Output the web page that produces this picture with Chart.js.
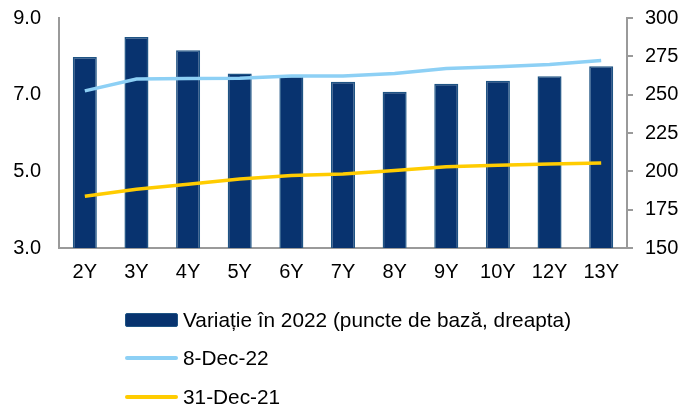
<!DOCTYPE html>
<html>
<head>
<meta charset="utf-8">
<script src="https://cdn.jsdelivr.net/npm/chart.js@4.4.1/dist/chart.umd.min.js"></script>
<style>
  html, body { margin: 0; padding: 0; background: #fff; }
  #wrap { position: relative; width: 682px; height: 408px; font-family: "Liberation Sans", Arial, sans-serif; }
  #c { position: absolute; left: 0; top: 0; }
  .leg { position: absolute; left: 125px; height: 22px; display: flex; align-items: center; font-size: 20.8px; color: #000; white-space: nowrap; }
  .leg .sw { width: 53px; margin-right: 5px; box-sizing: border-box; }
</style>
</head>
<body>
<div id="wrap">
  <canvas id="c" width="682" height="408"></canvas>
  <div id="legend"></div>
</div>
<script>
const categories = ["2Y", "3Y", "4Y", "5Y", "6Y", "7Y", "8Y", "9Y", "10Y", "12Y", "13Y"];
const variatie2022 = [274.6, 287.6, 279.0, 263.8, 262.2, 258.4, 251.9, 257.2, 259.1, 262.0, 268.5];
const dec8_22 = [7.10, 7.41, 7.42, 7.43, 7.49, 7.49, 7.55, 7.68, 7.73, 7.79, 7.89];
const dec31_21 = [4.35, 4.53, 4.66, 4.80, 4.89, 4.93, 5.02, 5.12, 5.16, 5.19, 5.22];
const leftTicks = [3.0, 5.0, 7.0, 9.0];
const rightTicks = [150, 175, 200, 225, 250, 275, 300];
const labelBar = "Variație în 2022 (puncte de bază, dreapta)";
const labelBlue = "8-Dec-22";
const labelYellow = "31-Dec-21";

const NAVY = "#08336f", NAVY_EDGE = "#1f5484", BLUE = "#8dd0f5", YELLOW = "#ffcc00", AXIS = "#9a9a9a";
const FONT = { family: "'Liberation Sans', Arial, sans-serif", size: 20 };

const zeroPad = (s) => { s.paddingTop = 0; s.paddingBottom = 0; s.paddingLeft = 0; s.paddingRight = 0; };

new Chart(document.getElementById("c"), {
  data: {
    labels: categories,
    datasets: [
      { type: "line", label: labelBlue, data: dec8_22, yAxisID: "yL", borderColor: BLUE, borderWidth: 3.5, pointRadius: 0, tension: 0, order: 1 },
      { type: "line", label: labelYellow, data: dec31_21, yAxisID: "yL", borderColor: YELLOW, borderWidth: 3.5, pointRadius: 0, tension: 0, order: 2 },
      { type: "bar", label: labelBar, data: variatie2022, yAxisID: "yR", backgroundColor: NAVY, borderColor: NAVY_EDGE, borderWidth: 1.5, barPercentage: 0.93, categoryPercentage: 0.5, order: 3 }
    ]
  },
  options: {
    responsive: false,
    animation: false,
    layout: { padding: { left: 0, right: 0, top: 18, bottom: 0 } },
    plugins: { legend: { display: false }, tooltip: { enabled: false } },
    scales: {
      x: {
        offset: true,
        grid: { display: false, drawTicks: false },
        border: { display: true, color: AXIS, width: 2 },
        ticks: { color: "#000", font: FONT, padding: 12, maxRotation: 0 },
        afterFit: (s) => { s.height = 160; zeroPad(s); }
      },
      yL: {
        position: "left", min: 3, max: 9,
        afterBuildTicks: (s) => { s.ticks = leftTicks.map(v => ({ value: v })); },
        grid: { display: false, drawTicks: false },
        border: { display: true, color: AXIS, width: 2 },
        ticks: { color: "#000", font: FONT, padding: 18, callback: (v) => Number(v).toFixed(1) },
        afterFit: (s) => { s.width = 59; zeroPad(s); }
      },
      yR: {
        position: "right", min: 150, max: 300,
        afterBuildTicks: (s) => { s.ticks = rightTicks.map(v => ({ value: v })); },
        grid: { display: true, drawOnChartArea: false, drawTicks: true, tickLength: 6, color: AXIS, lineWidth: 2 },
        border: { display: true, color: AXIS, width: 2 },
        ticks: { color: "#000", font: FONT, padding: 12 },
        afterFit: (s) => { s.width = 55; zeroPad(s); }
      }
    }
  }
});

// HTML legend built from dataset labels
const legendItems = [
  { text: labelBar, top: 309, sw: `height:14px;background:${NAVY};border:1.5px solid ${NAVY_EDGE};border-radius:2px;` },
  { text: labelBlue, top: 347, sw: `height:4px;background:${BLUE};border-radius:2px;` },
  { text: labelYellow, top: 386, sw: `height:4px;background:${YELLOW};border-radius:2px;` }
];
const lg = document.getElementById("legend");
legendItems.forEach(it => {
  const d = document.createElement("div");
  d.className = "leg";
  d.style.top = it.top + "px";
  d.innerHTML = `<div class="sw" style="${it.sw}"></div><span>${it.text}</span>`;
  lg.appendChild(d);
});
</script>
</body>
</html>
